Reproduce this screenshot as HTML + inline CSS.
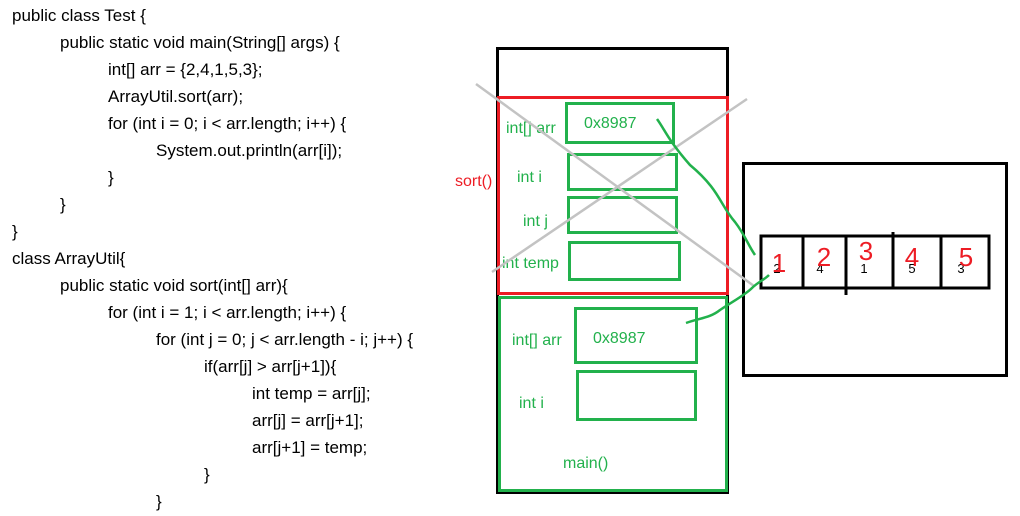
<!DOCTYPE html>
<html><head><meta charset="utf-8"><style>
body{margin:0;background:#fff;}
svg{display:block}
.c{font-family:"Liberation Sans",sans-serif;font-size:17px;fill:#000}
.g{font-family:"Liberation Sans",sans-serif;font-size:16px;fill:#22b14c}
</style></head><body>
<svg width="1020" height="516" viewBox="0 0 1020 516" xmlns="http://www.w3.org/2000/svg">
<g class="c">
<text x="12" y="21">public class Test {</text>
<text x="60" y="48">public static void main(String[] args) {</text>
<text x="108" y="75">int[] arr = {2,4,1,5,3};</text>
<text x="108" y="102">ArrayUtil.sort(arr);</text>
<text x="108" y="129">for (int i = 0; i &lt; arr.length; i++) {</text>
<text x="156" y="156">System.out.println(arr[i]);</text>
<text x="108" y="183">}</text>
<text x="60" y="210">}</text>
<text x="12" y="237">}</text>
<text x="12" y="264">class ArrayUtil{</text>
<text x="60" y="291">public static void sort(int[] arr){</text>
<text x="108" y="318">for (int i = 1; i &lt; arr.length; i++) {</text>
<text x="156" y="345">for (int j = 0; j &lt; arr.length - i; j++) {</text>
<text x="204" y="372">if(arr[j] &gt; arr[j+1]){</text>
<text x="252" y="399">int temp = arr[j];</text>
<text x="252" y="426">arr[j] = arr[j+1];</text>
<text x="252" y="453">arr[j+1] = temp;</text>
<text x="204" y="480">}</text>
<text x="156" y="507">}</text>
</g>
<!-- stack -->
<rect x="497.5" y="48.5" width="230" height="444" fill="none" stroke="#000" stroke-width="3"/>
<rect x="498.5" y="97.5" width="229" height="196" fill="none" stroke="#ed1c24" stroke-width="3"/>
<rect x="499.5" y="297.5" width="227" height="193" fill="none" stroke="#22b14c" stroke-width="3"/>
<g fill="none" stroke="#22b14c" stroke-width="3">
<rect x="566.5" y="103.5" width="107" height="39"/>
<rect x="568.5" y="154.5" width="108" height="35"/>
<rect x="568.5" y="197.5" width="108" height="35"/>
<rect x="569.5" y="242.5" width="110" height="37"/>
<rect x="575.5" y="308.5" width="121" height="54"/>
<rect x="577.5" y="371.5" width="118" height="48"/>
</g>
<text x="455" y="186" font-family="Liberation Sans,sans-serif" font-size="16" fill="#ed1c24">sort()</text>
<g class="g">
<text x="506" y="133">int[] arr</text>
<text x="584" y="128">0x8987</text>
<text x="517" y="182">int i</text>
<text x="523" y="226">int j</text>
<text x="502" y="268">int temp</text>
<text x="512" y="345">int[] arr</text>
<text x="593" y="343">0x8987</text>
<text x="519" y="408">int i</text>
<text x="563" y="468">main()</text>
</g>
<!-- heap -->
<rect x="743.5" y="163.5" width="263" height="212" fill="none" stroke="#000" stroke-width="3"/>
<rect x="761" y="236" width="228" height="52" fill="none" stroke="#000" stroke-width="3"/>
<g stroke="#000" stroke-width="3">
<line x1="803" y1="236" x2="803" y2="288"/>
<line x1="846" y1="236" x2="846" y2="295"/>
<line x1="893" y1="232" x2="893" y2="288"/>
<line x1="941" y1="236" x2="941" y2="288"/>
</g>
<g font-family="Liberation Sans,sans-serif" font-size="13" fill="#000" text-anchor="middle">
<text x="777" y="273">2</text><text x="820" y="273">4</text><text x="864" y="273">1</text><text x="912" y="273">5</text><text x="961" y="273">3</text>
</g>
<g font-family="Liberation Sans,sans-serif" font-size="26" fill="#ed1c24" text-anchor="middle">
<text x="779" y="272">1</text><text x="824" y="266">2</text><text x="866" y="260">3</text><text x="912" y="266">4</text><text x="966" y="266">5</text>
</g>
<!-- gray cross -->
<g stroke="#c3c3c3" stroke-width="2.5">
<line x1="476" y1="84" x2="754" y2="286"/>
<line x1="747" y1="99" x2="492" y2="272"/>
</g>
<!-- green pointers -->
<g fill="none" stroke="#22b14c" stroke-width="2.5">
<path d="M657 119 C665 130 668 140 690 165 C720 190 720 205 735 222 C745 235 748 245 755 255"/>
<path d="M686 323 C700 318 710 318 720 310 C735 300 745 295 752 288 C758 282 764 280 769 275"/>
</g>
</svg>
</body></html>
